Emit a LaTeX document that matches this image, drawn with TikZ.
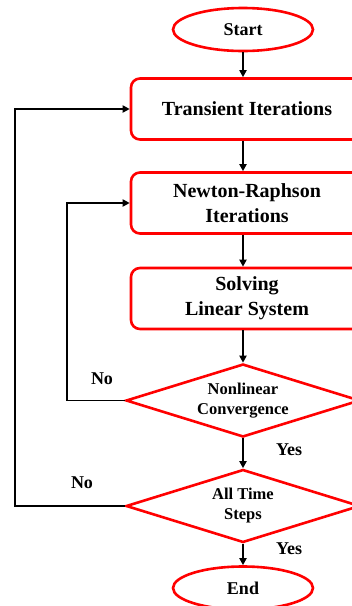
\documentclass[tikz,border=0pt]{standalone}
\usepackage{fontspec}
\setmainfont{Liberation Serif}
\usetikzlibrary{shapes.geometric,arrows.meta}
\definecolor{flowred}{RGB}{255,0,0}
\begin{document}
\begin{tikzpicture}[x=1pt,y=-1pt,
  every node/.style={font=\bfseries},
  terminal/.style={ellipse,draw=flowred,line width=2.6pt,fill=white,
    minimum width=140pt,minimum height=43pt,inner sep=0pt,font=\fontsize{18}{20}\selectfont\bfseries},
  procbox/.style={rectangle,rounded corners=9pt,draw=flowred,line width=2.6pt,fill=white,
    minimum width=232pt,minimum height=61pt,inner sep=0pt,align=center,
    font=\fontsize{20}{25}\selectfont\bfseries},
  decision/.style={diamond,aspect=3.2,draw=flowred,line width=2.6pt,fill=white,
    minimum width=234pt,minimum height=73pt,inner sep=0pt,align=center,
    font=\fontsize{16.5}{20}\selectfont\bfseries},
  arr/.style={draw=black,line width=1.8pt,-{Triangle[length=7pt,width=7pt]}},
  lbl/.style={font=\fontsize{18}{20}\selectfont\bfseries}]
\useasboundingbox (0,0) rectangle (352,606);

% flow elements
\node[terminal] (start) at (243,29.5) {Start};
\node[procbox] (trans) at (247,109) {Transient Iterations};
\node[procbox] (nr) at (247,203) {Newton-Raphson\\Iterations};
\node[procbox] (solve) at (247,298.5) {Solving\\Linear System};
\node[decision] (conv) at (243,400.5) {Nonlinear\\Convergence};
\node[decision] (steps) at (243,506) {All Time\\Steps};
\node[terminal] (end) at (243,588) {End};

% loop corners
\coordinate (innerc) at (67,0);
\coordinate (outerc) at (15,0);

% main path
\draw[arr] (start.south) -- (start.south |- trans.north);
\draw[arr] (start.south |- trans.south) -- (start.south |- nr.north);
\draw[arr] (start.south |- nr.south) -- (start.south |- solve.north);
\draw[arr] (start.south |- solve.south) -- (conv.north);
\draw[arr] (conv.south) -- (steps.north);
\draw[arr] (steps.south) -- (end.north);

% feedback loops
\draw[arr] (conv.west) -- (innerc |- conv.west) -- (innerc |- nr.west) -- (nr.west);
\draw[arr] (steps.west) -- (outerc |- steps.west) -- (outerc |- trans.west) -- (trans.west);

% branch labels
\node[lbl] (no1) at (102,379) {No};
\node[lbl] (no2) at (82,483) {No};
\node[lbl] (yes1) at (289,450) {Yes};
\node[lbl] (yes2) at (289,549) {Yes};
\end{tikzpicture}
\end{document}
